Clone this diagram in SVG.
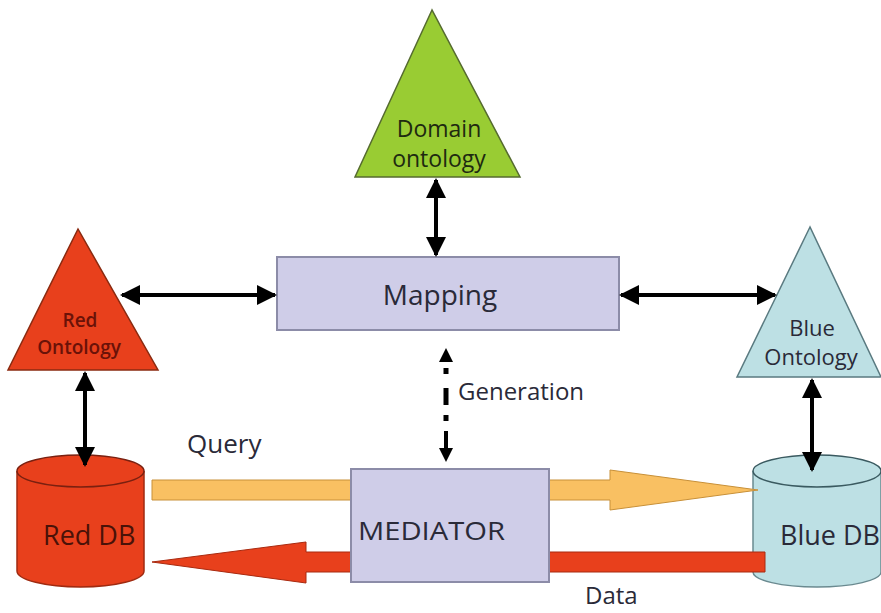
<svg xmlns="http://www.w3.org/2000/svg" width="881" height="613" viewBox="0 0 881 613">
<defs>
<marker id="ah" viewBox="0 0 10 10" refX="9" refY="5" markerWidth="5" markerHeight="5" orient="auto-start-reverse" markerUnits="strokeWidth">
<path d="M0,0 L10,5 L0,10 Z" fill="#000"/>
</marker>
<style>
.t{font-family:"Open Sans","Liberation Sans",sans-serif;fill:#2a2a38}
.box{fill:#cfcde8;stroke:#8c8ca8;stroke-width:2}
.link{stroke:#000;stroke-width:4;fill:none;marker-start:url(#ah);marker-end:url(#ah)}
</style>
</defs>
<rect width="881" height="613" fill="#fff"/>

<g id="domain-ontology">
<polygon points="432,10 355,177 520,177" fill="#99cc33" stroke="#556b2f" stroke-width="1.5"/>
<text class="t" x="439" y="137" font-size="23" text-anchor="middle" style="fill:#1e2a10">Domain</text>
<text class="t" x="439" y="167" font-size="23" text-anchor="middle" style="fill:#1e2a10">ontology</text>
</g>

<g id="mapping">
<rect class="box" x="277" y="257" width="342" height="73"/>
<text class="t" x="440" y="305" font-size="28" text-anchor="middle">Mapping</text>
</g>

<g id="red-ontology">
<polygon points="78,229 8,370 158,370" fill="#e8401c" stroke="#8a2a10" stroke-width="1.5"/>
<text class="t" x="80" y="327" font-size="19" font-weight="600" text-anchor="middle" style="fill:#6a1208">Red</text>
<text class="t" x="79" y="354" font-size="19" font-weight="600" text-anchor="middle" style="fill:#6a1208">Ontology</text>
</g>

<g id="blue-ontology">
<polygon points="810,227 737,377 881,377" fill="#bde0e4" stroke="#5a7a80" stroke-width="1.5"/>
<text class="t" x="812" y="336" font-size="22" text-anchor="middle">Blue</text>
<text class="t" x="811" y="365" font-size="22" text-anchor="middle">Ontology</text>
</g>

<g id="red-db">
<path d="M17,471 L17,571 A63.5,16 0 0 0 144,571 L144,471" fill="#e8401c" stroke="#a02a10" stroke-width="1.5"/>
<ellipse cx="80.5" cy="471" rx="63.5" ry="16" fill="#e8401c" stroke="#7a2010" stroke-width="1.5"/>
<text class="t" x="43" y="545" font-size="27" style="fill:#4a1208">Red DB</text>
</g>

<g id="blue-db">
<path d="M753,471 L753,572 A64,15 0 0 0 881,572 L881,471" fill="#bde0e4" stroke="#6a8a90" stroke-width="1.5"/>
<ellipse cx="817" cy="471" rx="64" ry="16" fill="#bde0e4" stroke="#3a5a60" stroke-width="1.5"/>
<text class="t" x="780" y="545" font-size="27">Blue DB</text>
</g>

<g id="connectors">
<line class="link" x1="436" y1="180" x2="436" y2="255"/>
<line class="link" x1="122" y1="295" x2="275" y2="295"/>
<line class="link" x1="621" y1="295" x2="775" y2="295"/>
<line class="link" x1="85" y1="373" x2="85" y2="465"/>
<line class="link" x1="812" y1="380" x2="812" y2="470"/>
<g id="generation-arrow" fill="#000">
<polygon points="446,348 439,362 453,362"/>
<rect x="443.5" y="368" width="5" height="6"/>
<rect x="443.5" y="388" width="5" height="17"/>
<rect x="443.5" y="415" width="5" height="6"/>
<rect x="444" y="431" width="4" height="18"/>
<polygon points="446,462 439,448 453,448"/>
</g>
<path id="query-arrow" d="M152,480 L610,480 L610,470 L758,490 L610,510 L610,500 L152,500 Z" fill="#f9c062" stroke="#c89038" stroke-width="1"/>
<path id="data-arrow" d="M765,552 L306,552 L306,542 L152,562 L306,583 L306,572 L765,572 Z" fill="#e8401c" stroke="#a82a10" stroke-width="1"/>
</g>

<g id="mediator">
<rect class="box" x="351" y="469" width="198" height="113"/>
<text class="t" x="358" y="540" font-size="26" textLength="147" lengthAdjust="spacingAndGlyphs">MEDIATOR</text>
</g>

<g id="labels">
<text class="t" x="458" y="400" font-size="24">Generation</text>
<text class="t" x="187" y="453" font-size="26">Query</text>
<text class="t" x="585" y="604" font-size="24">Data</text>
</g>
</svg>
